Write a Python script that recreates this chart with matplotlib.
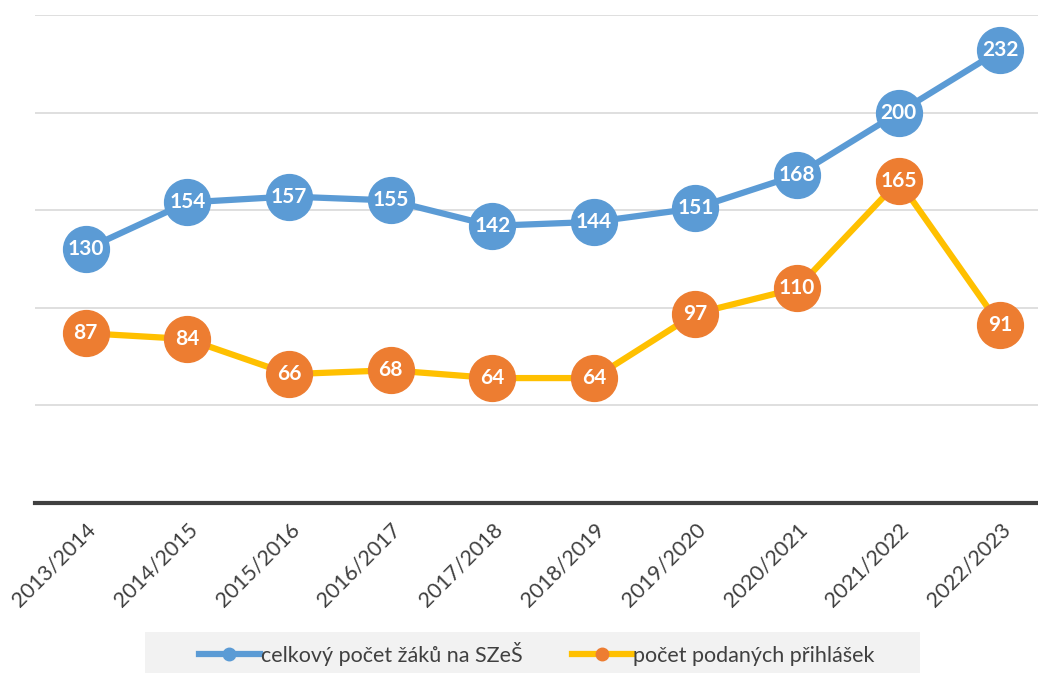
import matplotlib
matplotlib.use("Agg")
import matplotlib.pyplot as plt
from matplotlib.patches import Rectangle

years = ["2013/2014", "2014/2015", "2015/2016", "2016/2017", "2017/2018",
         "2018/2019", "2019/2020", "2020/2021", "2021/2022", "2022/2023"]
students = [130, 154, 157, 155, 142, 144, 151, 168, 200, 232]
applications = [87, 84, 66, 68, 64, 64, 97, 110, 165, 91]
series_names = ["celkový počet žáků na SZeŠ", "počet podaných přihlášek"]

plt.rcParams['font.family'] = ['Lato', 'DejaVu Sans']

W, H = 1038, 673
fig = plt.figure(figsize=(W / 100, H / 100), dpi=100)
left, right, bottom, top = 35, 1038, 503, 15
ax = fig.add_axes([left / W, (H - bottom) / H, (right - left) / W, (bottom - top) / H])

x = list(range(len(years)))
blue, orange, yellow = "#5B9BD5", "#ED7D31", "#FFC000"

ax.plot(x, students, color=blue, lw=4.5, marker="o", ms=33, mfc=blue, mec=blue,
        label=series_names[0], zorder=3, solid_capstyle="round")
ax.plot(x, applications, color=yellow, lw=4.5, marker="o", ms=33, mfc=orange, mec=orange,
        label=series_names[1], zorder=3, solid_capstyle="round")

for xi, v in zip(x, students):
    ax.text(xi, v, str(v), ha="center", va="center", color="white",
            fontsize=15, fontweight="bold", zorder=4)
for xi, v in zip(x, applications):
    ax.text(xi, v, str(v), ha="center", va="center", color="white",
            fontsize=15, fontweight="bold", zorder=4)

ax.set_xlim(-0.5, (right - 85) / 101.7)
ax.set_ylim(0, 250)
ax.set_yticks([50, 100, 150, 200, 250])
ax.yaxis.grid(True, color="#D9D9D9", lw=1.2)
ax.set_axisbelow(True)
ax.tick_params(axis="y", left=False, labelleft=False)
ax.tick_params(axis="x", length=0, pad=12)
ax.set_xticks(x)
ax.set_xticklabels(years, rotation=45, ha="right", va="top", rotation_mode="anchor",
                   fontsize=15.5, color="#404040")
for s in ["top", "right", "left"]:
    ax.spines[s].set_visible(False)
ax.spines["bottom"].set_color("#404040")
ax.spines["bottom"].set_linewidth(3)

# legend background box
fig.patches.append(Rectangle((145 / W, 0), (920 - 145) / W, (673 - 632) / H,
                             transform=fig.transFigure, facecolor="#F2F2F2",
                             edgecolor="none", zorder=0))

h1 = plt.Line2D([], [], color=blue, lw=4.5, marker="o", ms=9, mfc=blue, mec=blue)
h2 = plt.Line2D([], [], color=yellow, lw=4.5, marker="o", ms=9, mfc=orange, mec=orange)
leg = fig.legend([h1, h2], series_names, loc="center", bbox_to_anchor=(537 / W, (H - 654) / H),
                 ncol=2, frameon=False, fontsize=15.5, handlelength=2.8, handletextpad=0.05,
                 columnspacing=2.3, labelcolor="#404040")

fig.savefig("out.png", dpi=100)
